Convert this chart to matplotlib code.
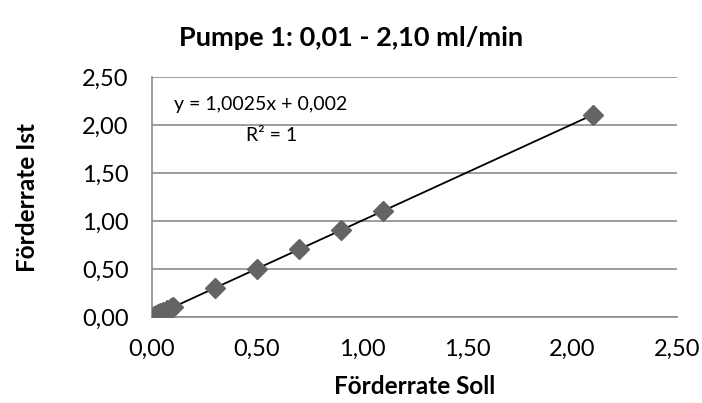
import numpy as np
import matplotlib
matplotlib.use("Agg")
import matplotlib.pyplot as plt
from matplotlib.ticker import FuncFormatter

# Messwerte Pumpe 1
soll = [0.01, 0.02, 0.03, 0.04, 0.05, 0.07, 0.09, 0.10, 0.30, 0.50, 0.70, 0.90, 1.10, 2.10]
ist = [0.012, 0.022, 0.032, 0.042, 0.052, 0.072, 0.092, 0.102, 0.303, 0.503, 0.704, 0.904, 1.105, 2.107]

titel = "Pumpe 1: 0,01 - 2,10 ml/min"
x_label = "Förderrate Soll"
y_label = "Förderrate Ist"
gleichung = "y = 1,0025x + 0,002"
r2_text = "R² = 1"
ticks = [0.0, 0.5, 1.0, 1.5, 2.0, 2.5]

plt.rcParams['font.family'] = ['Lato', 'DejaVu Sans']

fig = plt.figure(figsize=(7.02, 4.03), dpi=100)
ax = fig.add_axes([152/702, 1 - 317/403, (677-152)/702, (317-77)/403])

# Trendlinie (lineare Regression)
k, d = np.polyfit(soll, ist, 1)
xs = np.array([min(soll), max(soll)])
ax.plot(xs, k*xs + d, color='black', linewidth=1.3, zorder=2)

ax.plot(soll, ist, linestyle='none', marker='D', markersize=10.5,
        color='#646464', markeredgecolor='#646464', zorder=3)

ax.set_xlim(0, 2.5)
ax.set_ylim(0, 2.5)
ax.set_xticks(ticks)
ax.set_yticks(ticks)
fmt = FuncFormatter(lambda v, p: f"{v:.2f}".replace('.', ','))
ax.xaxis.set_major_formatter(fmt)
ax.yaxis.set_major_formatter(fmt)
ax.tick_params(length=0, labelsize=17, colors='black')
ax.tick_params(axis='x', pad=16)
ax.tick_params(axis='y', pad=17)
ax.grid(axis='y', color='#8c8c8c', linewidth=1.2)
ax.set_axisbelow(True)
for s in ['top', 'right']:
    ax.spines[s].set_visible(False)
for s in ['left', 'bottom']:
    ax.spines[s].set_color('#8c8c8c')
    ax.spines[s].set_linewidth(1.2)

fig.text(0.5, 1 - 38/403, titel, fontsize=19.5, fontweight='bold', ha='center', va='center')
ax.set_xlabel(x_label, fontsize=17.5, fontweight='bold', labelpad=11)
ax.set_ylabel(y_label, fontsize=17.5, fontweight='bold', labelpad=31)

ax.text(0.105, 2.21, gleichung, fontsize=14, ha='left', va='center')
ax.text(0.45, 1.89, r2_text, fontsize=14, ha='left', va='center')

fig.savefig("out.png", dpi=100)
